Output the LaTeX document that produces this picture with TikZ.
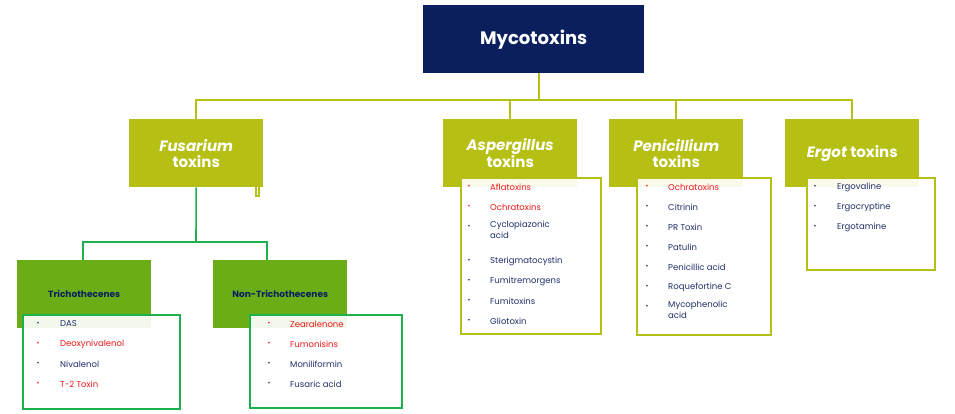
\documentclass[tikz,border=0pt]{standalone}
\usepackage{fontspec}
\setmainfont{Poppins}
\definecolor{navy}{HTML}{0B1F5E}
\definecolor{olive}{HTML}{B5BF14}
\definecolor{lgreen}{HTML}{6AAD17}
\definecolor{bgreen}{HTML}{1DB04C}
\definecolor{itred}{HTML}{F01818}
\definecolor{itblue}{HTML}{1F2F6A}
\begin{document}
\begin{tikzpicture}[x=1pt,y=-1pt,
  hdr/.style={fill=olive,text=white,font=\bfseries\fontsize{15}{16}\selectfont,align=center,minimum width=134pt,minimum height=68pt,inner sep=0pt,anchor=north west},
  sub/.style={fill=lgreen,text=navy,font=\bfseries\fontsize{9}{10}\selectfont,minimum width=134pt,minimum height=68pt,inner sep=0pt,anchor=north west},
  olist/.style={draw=olive,line width=1.6pt,fill=white,fill opacity=0.92,inner sep=0pt,anchor=north west},
  glist/.style={draw=bgreen,line width=1.6pt,fill=white,fill opacity=0.92,inner sep=0pt,anchor=north west},
  oline/.style={draw=olive,line width=1.6pt},
  gline/.style={draw=bgreen,line width=1.6pt},
  it/.style={font=\fontsize{8.5}{10.5}\selectfont,anchor=west,inner sep=0pt,align=left,text=itblue},
  itr/.style={it,text=itred},
  bul/.style={font=\fontsize{7}{8}\selectfont,inner sep=0pt}
]
\useasboundingbox (0,0) rectangle (955,414);
% top
\node[fill=navy,text=white,font=\bfseries\fontsize{18}{20}\selectfont,minimum width=221pt,minimum height=68pt,inner sep=0pt,anchor=north west] (myco) at (423,5) {Mycotoxins};
\coordinate (j) at (539,100);
\node[hdr] (fus) at (129,119) {\itshape Fusarium\\toxins};
\node[hdr] (asp) at (443,119) {\itshape Aspergillus\\toxins};
\node[hdr] (pen) at (609,119) {\itshape Penicillium\\toxins};
\node[hdr] (erg) at (785,119) {{\itshape Ergot} toxins};
\draw[oline] (myco.south -| j) -- (j);
\draw[oline] (fus.north) |- (j) -| (erg.north);
\draw[oline] (j) -| (asp.north);
\draw[oline] (j) -| (pen.north);
\node[draw=olive,line width=1.2pt,minimum width=3pt,minimum height=22pt,inner sep=0pt] (tick) at (257.5,185) {};
% Fusarium branch
\node[sub] (tri) at (17,260) {Trichothecenes};
\node[sub] (non) at (213,260) {Non-Trichothecenes};
\coordinate (fj) at (196,242);
\draw[gline] (fus.south) -- (fj);
\draw[gline] (fj) -| ([xshift=-1pt]tri.north);
\draw[gline] (fj) -| ([xshift=-13pt]non.north);
\node[glist,minimum width=157pt,minimum height=94pt] (tl) at (22,314) {};
\node[glist,minimum width=152pt,minimum height=93pt] (nl) at (249,314) {};
% list helper
\newcommand\itm[5]{\node[bul,text=#4] at (#1,#3) {•}; \node[#5] at (#2,#3) {#4text};}
\foreach \y/\t/\c in {324/DAS/itblue,344/Deoxynivalenol/itred,364/Nivalenol/itblue,384/T-2 Toxin/itred}{
  \node[bul,text=\c] at (38,\y) {•}; \node[it,text=\c] at (60,\y) {\t};}
\foreach \y/\t/\c in {324/Zearalenone/itred,344/Fumonisins/itred,364/Moniliformin/itblue,384/Fusaric acid/itblue}{
  \node[bul,text=\c] at (269,\y) {•}; \node[it,text=\c] at (290,\y) {\t};}
% Aspergillus
\node[olist,minimum width=140pt,minimum height=156pt] (al) at (460,177) {};
\foreach \y/\t/\c in {187/Aflatoxins/itred,207/Ochratoxins/itred,261/Sterigmatocystin/itblue,281/Fumitremorgens/itblue,301/Fumitoxins/itblue,321/Gliotoxin/itblue}{
  \node[bul,text=\c] at (469,\y) {•}; \node[it,text=\c] at (490,\y) {\t};}
\node[bul,text=itblue] at (469,227) {•}; \node[it,anchor=north west] at (490,221) {Cyclopiazonic\\acid};
% Penicillium
\node[olist,minimum width=134pt,minimum height=157pt] (pl) at (636,177) {};
\foreach \y/\t/\c in {187/Ochratoxins/itred,207/Citrinin/itblue,227/PR Toxin/itblue,247/Patulin/itblue,267/Penicillic acid/itblue,287/Roquefortine C/itblue}{
  \node[bul,text=\c] at (647,\y) {•}; \node[it,text=\c] at (668,\y) {\t};}
\node[bul,text=itblue] at (647,307) {•}; \node[it,anchor=north west] at (668,301) {Mycophenolic\\acid};
% Ergot
\node[olist,minimum width=128pt,minimum height=92pt] (el) at (806,177) {};
\foreach \y/\t in {187/Ergovaline,207/Ergocryptine,227/Ergotamine}{
  \node[bul,text=itblue] at (815,\y) {•}; \node[it] at (837,\y) {\t};}
\end{tikzpicture}
\end{document}
